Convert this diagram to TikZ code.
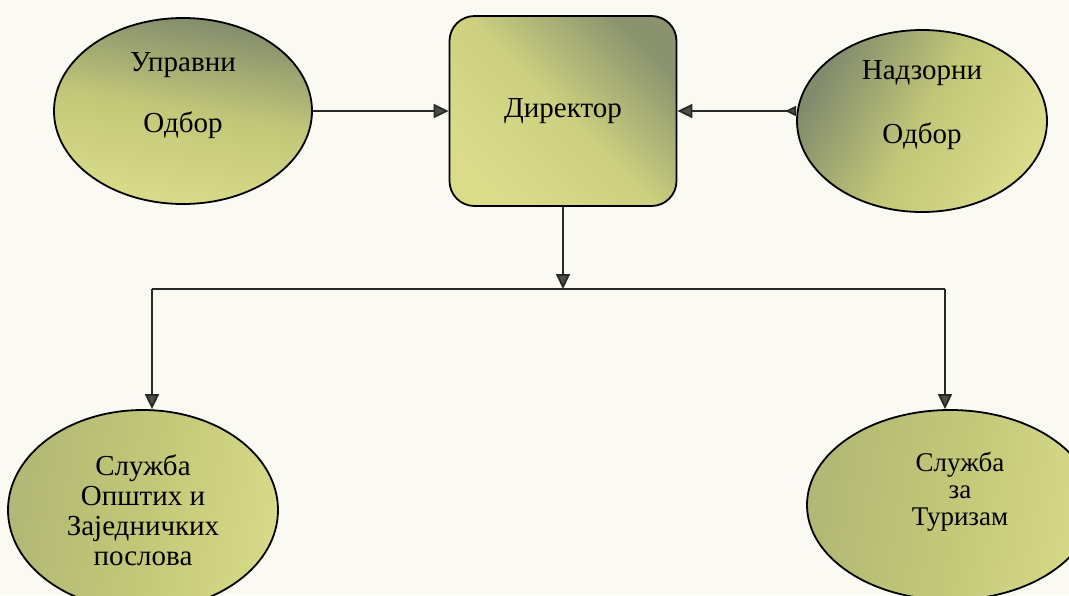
\documentclass[tikz,border=0pt]{standalone}
\usepackage{fontspec}
\setmainfont{Liberation Serif}
\usetikzlibrary{shapes.geometric}
\usetikzlibrary{arrows.meta}

\definecolor{paper}{RGB}{250,250,242}
\definecolor{olivedark}{RGB}{128,138,108}
\definecolor{olivemid}{RGB}{194,199,120}
\definecolor{olivelight}{RGB}{218,220,138}
\definecolor{wire}{RGB}{40,40,40}
\definecolor{tipfill}{RGB}{72,80,70}

\begin{document}
\begin{tikzpicture}
          [x=1pt, y=-1pt,
          board/.style = {draw=black, line width=1.8pt, ellipse, inner sep=0pt},
          headbox/.style = {draw=black, line width=1.8pt, rounded corners=25pt,
            minimum width=227pt, minimum height=190pt},
          caption/.style = {align=center, font=\fontsize{29}{33}\selectfont},
          small/.style = {align=center, font=\fontsize{29}{30}\selectfont},
          link/.style = {draw=wire, line width=1.8pt,
            -{Triangle[width=14pt,length=15pt,fill=tipfill]}}]
          \clip (0,0) rectangle (1069,595);
          \fill[paper] (0,0) rectangle (1069,595);

          \node[headbox, caption, top color=olivedark!85!olivemid, bottom color=olivelight,
            middle color=olivemid!60!olivelight, shading angle=-45] (dir) at (563,111) {Директор};
          \node[board, minimum width=258pt, minimum height=186pt,
            top color=olivedark, bottom color=olivelight, middle color=olivemid, shading angle=-10,
            label={[caption, yshift=15pt]center:{Управни\\[28pt]Одбор}}] (upr) at (183,111) {};
          \node[board, minimum width=250pt, minimum height=182pt,
            top color=olivedark, bottom color=olivelight, middle color=olivemid, shading angle=60,
            label={[caption, yshift=16pt]center:{Надзорни\\[31pt]Одбор}}] (nad) at (922,121) {};
          \node[board, small, minimum width=270pt, minimum height=200pt,
            top color=olivemid!75!olivedark, bottom color=olivelight!85!olivemid, middle color=olivemid, shading angle=80]
            (opst) at (143,510) {Служба\\Општих и\\Заједничких\\послова};
          \node[board, minimum width=286pt, minimum height=190pt,
            top color=olivemid!75!olivedark, bottom color=olivelight!85!olivemid, middle color=olivemid, shading angle=80,
            label={[small, font=\fontsize{27}{27}\selectfont, xshift=10pt, yshift=13pt]center:{Служба\\за\\Туризам}}]
            (tur) at (950,505) {};

          \coordinate (bus) at (563,289);
          \coordinate (busL) at (152,289);
          \coordinate (busR) at (945,289);

          \draw[link] (upr) -- (dir);
          \draw[link, {Triangle[reversed,width=10pt,length=11pt,fill=tipfill]}-{Triangle[width=14pt,length=15pt,fill=tipfill]}]
            (nad.west |- dir.east) -- (dir.east);
          \draw[link] (dir) -- (bus);
          \draw[draw=wire, line width=1.8pt] (busL) -- (busR);
          \draw[link] (busL) -- (busL |- opst.north);
          \draw[link] (busR) -- (busR |- tur.north);
\end{tikzpicture}
\end{document}
